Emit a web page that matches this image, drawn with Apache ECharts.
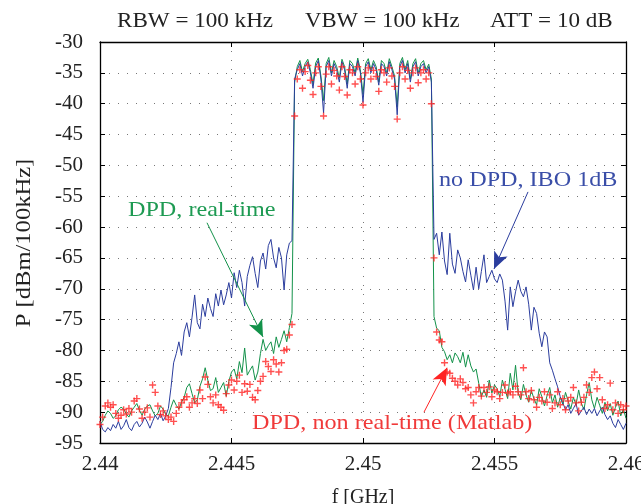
<!DOCTYPE html>
<html>
<head>
<meta charset="utf-8">
<script src="https://cdn.jsdelivr.net/npm/echarts@6/dist/echarts.min.js"></script>
<style>html,body{margin:0;padding:0;background:#fff}#c{width:641px;height:504px}</style>
</head>
<body>
<div id="c"></div>
<script>
// Frequency grid (GHz): uniform analyzer sweep
const F_START = 2.44;
const F_STEP = 0.0001;
const N_POINTS = 201;

const xTicks = [2.44, 2.445, 2.45, 2.455, 2.46];
const yTicks = [-95, -90, -85, -80, -75, -70, -65, -60, -55, -50, -45, -40, -35, -30];

// no DPD, IBO 1dB (blue)
const noDPD = [
-91.5,-92.8,-93.2,-92.5,-93,-92,-92.6,-91.5,-92.8,-92.2,
-91.2,-92.5,-93,-92,-91.5,-92.4,-91.8,-90.8,-91.6,-92.6,
-91.5,-90.5,-91.2,-90.2,-91.4,-90.6,-89.4,-86,-82,-80.5,
-78.6,-80.8,-77,-75.5,-77.8,-74.6,-71,-75.5,-76.5,-72.5,
-74.5,-71.5,-73.2,-74.5,-70.8,-72.8,-70.2,-72.6,-71,-69,
-71.5,-67.4,-69.8,-67,-69,-72.8,-68,-66.2,-64.8,-67.5,
-69.8,-65.5,-64.2,-66.8,-63,-62,-65,-66.6,-63.3,-65,
-70.2,-64.5,-62.6,-62.2,
-36,
-34.5,-33.5,-35.5,-34,-33.2,-35,-37.5,-34,-33,-36,
-41.5,-34,-33,-35.5,-33.5,-34.5,-36.5,-33.2,-34.5,-37.5,
-33.5,-34,-35.5,-33,-35,-39.8,-34,-33.2,-35,-33.5,
-34.5,-37,-33.5,-34,-35.5,-33.2,-34.5,-36,-41.8,-34,
-33,-35,-33.5,-36.5,-34,-33.2,-35.5,-34,-33.5,-35,-34,
-36.5,-62,-61,-64.5,-60.8,-65.5,-67.7,-61,-66,-67.5,
-63.7,-65,-67.2,-68.9,-65.3,-67.8,-70.2,-66.5,-70,-67.2,
-64.5,-69,-68,-67,-68.4,-69,-67.6,-68.6,-72,-76.7,
-69.7,-72.9,-70.5,-68.6,-70.4,-71.3,-69.7,-72.5,-76.7,-73,
-74,-77.2,-79.4,-77,-77.8,-82,-83.2,-84.6,-85.9,-87.5,
-88.5,-89.6,-88.8,-90.2,-89.4,-88.6,-90.5,-89.8,-89.2,-90.4,
-89.5,-90.2,-89.4,-90.6,-89.8,-89.2,-90.4,-91.2,-90.6,-91.8,
-92.5,-91.2,-92,-92.8,-91.8
];

// DPD, real-time (green)
const dpdRT = [
-92,-91.5,-90.5,-89.8,-90.2,-91,-90.6,-89.6,-89.2,-89.5,
-90.3,-90.8,-89.8,-89.2,-88.6,-89.7,-90.5,-89.5,-89,-88.8,
-89.8,-90.6,-90.2,-89,-89.5,-90.4,-90.6,-89.2,-88,-88.9,
-89.5,-88.4,-87.6,-86,-85.4,-87,-88.5,-88,-85.8,-84.6,
-82.8,-84.8,-86.5,-86.2,-84.4,-86.8,-86,-85.2,-87.4,-85,
-83.5,-83,-84.6,-81.8,-83.6,-79.6,-84,-83.2,-82.5,-84.8,
-83.5,-80.5,-78.2,-80,-79.2,-78.6,-80.5,-77.8,-79.5,-78.2,
-76.8,-78.6,-76.3,-74,
-36.5,
-34,-33,-34.8,-33.5,-32.8,-34.5,-36.8,-33.4,-32.6,-35.5,
-39.5,-33.5,-32.5,-35,-33,-34,-35.8,-32.8,-34,-36.8,
-33,-33.5,-35,-32.6,-34.5,-38.5,-33.5,-32.7,-34.5,-33,
-34,-36.5,-33,-33.5,-35,-32.7,-34,-35.5,-40.5,-33.5,
-32.5,-34.5,-33,-36,-33.5,-32.7,-35,-33.5,-33,-34.5,-33.6,
-36,-74.5,-76.4,-76.8,-79.5,-80.2,-81.5,-80.7,-82,-80.4,
-81,-82,-80.3,-82.7,-80.7,-82.5,-83.5,-83,-85.3,-87.5,
-86.4,-87.6,-84.8,-86.9,-85.6,-86.2,-87.5,-84.8,-86.3,-87.8,
-83.7,-86.4,-82.4,-86.9,-88,-85.5,-87.2,-88.4,-86.5,-87.8,
-88.8,-86.2,-87.5,-89,-87.3,-86,-88.5,-87.2,-89.2,-87.6,
-88.8,-86.8,-88.2,-89.5,-87.6,-88.8,-86.4,-88.5,-89.6,-87.2,
-85.2,-88,-89.4,-87.6,-88.9,-90.2,-88.4,-89.8,-88.6,-90.5,
-89.2,-88.2,-90.6,-89.5,-91
];

// DPD, non real-time (Matlab) (red markers)
const dpdMatlab = [
-92,-90.8,-89,-88.5,-89.2,-88.8,-90.2,-91,-90.5,-89.6,
-90.3,-89.4,-90,-88.2,-87.8,-89.5,-91,-90,-89.3,-90.8,
-85.6,-86.8,-89,-90.4,-89.8,-90.6,-91.2,-90.8,-91.5,-90.2,
-89.2,-88.5,-88,-87.5,-89.2,-88.5,-87.8,-88.6,-86.4,-87.8,
-84.3,-85.5,-87.5,-88.5,-87.2,-88.8,-89.2,-89.7,-87,-85.6,
-84.8,-86.4,-85,-84,-86.8,-85.4,-86.6,-85.5,-87.6,-88,
-86.5,-85,-84.2,-81.8,-82.6,-83.4,-81.5,-82.2,-83.5,-82,
-80,-79.8,-77.5,-75.8,
-42,
-36,-34.5,-37.5,-34.8,-33.8,-36.2,-38.5,-35,-34,-37.2,
-42,-35.2,-34,-36.8,-34.6,-35.5,-37.8,-34,-35.6,-38.6,
-34.5,-35,-36.8,-34,-36,-40.2,-35,-34.2,-36,-34.6,
-35.6,-38,-34.5,-35,-36.5,-34.2,-35.5,-37.2,-42.5,-35,
-34,-36,-34.6,-37.5,-35,-34.2,-36.6,-35,-34.5,-36,-35,
-40,-65,-77,-78.3,-78.6,-82,-83.5,-83.7,-84.5,-85,
-85.6,-84.6,-85.2,-86.2,-86,-87.2,-88.5,-86.7,-86,-87.4,
-86,-86.8,-85.9,-87.5,-86.4,-86.7,-87.8,-86.8,-85.6,-86.9,
-86.7,-87.2,-85.8,-86.7,-87.2,-82.8,-86.7,-87.8,-86.5,-88,
-89.2,-87.6,-88.2,-86.7,-88.4,-87.2,-89.4,-88.5,-86.7,-88.8,
-87.8,-89.6,-88.2,-87.6,-86,-88.5,-89.8,-88.4,-87.6,-85.6,
-86.8,-84.4,-83.5,-86.2,-84.4,-88,-89.4,-88.8,-85.3,-89.6,
-88.5,-90.2,-88.8,-89.6,-89
];

const headerTexts = ['RBW = 100 kHz', 'VBW = 100 kHz', 'ATT = 10 dB'];
const seriesNames = ['no DPD, IBO 1dB', 'DPD, real-time', 'DPD, non real-time (Matlab)'];
const axisNames = {x: 'f [GHz]', y: 'P [dBm/100kHz]'};

const freqs = [];
for (let i = 0; i < N_POINTS; i++) freqs.push(+(F_START + i * F_STEP).toFixed(5));
const pairs = arr => arr.map((v, i) => [freqs[i], v]);

const BLUE = '#2b3d9e', GREEN = '#13924a', RED = '#ff2424';
const FONT = "'Liberation Serif', 'Times New Roman', serif";
const fmt = v => String(Number(v.toFixed(3)));

const chart = echarts.init(document.getElementById('c'), null, {renderer: 'canvas'});

function arrow(color, from, to) {
  return {
    silent: true, animation: false,
    symbol: ['none', 'arrow'], symbolSize: [11, 17],
    lineStyle: {color: color, width: 1, type: 'solid'},
    label: {show: false},
    emphasis: {disabled: true},
    data: [[{coord: from}, {coord: to}]]
  };
}

function txt(text, x, y, size, color, sx, extra) {
  return Object.assign({
    type: 'text', x: x, y: y, scaleX: sx, z: 10, silent: true,
    style: {text: text, font: size + 'px ' + FONT, fill: color, textAlign: 'left', textVerticalAlign: 'top'}
  }, extra || {});
}

const axisCommon = {
  type: 'value',
  axisLine: {show: true, onZero: false, lineStyle: {color: '#000', width: 1.3}},
  axisTick: {show: true, inside: true, length: 5, lineStyle: {color: '#000', width: 1}},
};

chart.setOption({
  animation: false,
  backgroundColor: '#fff',
  grid: {left: 100, right: 15, top: 42, bottom: 61, containLabel: false, outerBoundsMode: 'none'},
  xAxis: [
    Object.assign({}, axisCommon, {
      min: xTicks[0], max: xTicks[xTicks.length - 1], interval: 0.005,
      position: 'bottom',
      name: axisNames.x, nameLocation: 'middle', nameGap: 45,
      nameTextStyle: {fontFamily: FONT, fontSize: 20, color: '#222'},
      axisLabel: {fontFamily: FONT, fontSize: 21, color: '#222', margin: 11, formatter: fmt},
      splitLine: {show: true, lineStyle: {color: '#777', width: 1, type: [1, 8]}}
    }),
    Object.assign({}, axisCommon, {
      min: xTicks[0], max: xTicks[xTicks.length - 1], interval: 0.005,
      position: 'top', axisLabel: {show: false}, splitLine: {show: false}
    })
  ],
  yAxis: [
    Object.assign({}, axisCommon, {
      min: yTicks[0], max: yTicks[yTicks.length - 1], interval: 5,
      position: 'left',
      axisLabel: {fontFamily: FONT, fontSize: 21, color: '#222', margin: 17},
      splitLine: {show: true, lineStyle: {color: '#777', width: 1, type: [1, 8]}}
    }),
    Object.assign({}, axisCommon, {
      min: yTicks[0], max: yTicks[yTicks.length - 1], interval: 5,
      position: 'right', axisLabel: {show: false}, splitLine: {show: false}
    })
  ],
  graphic: [
    txt(headerTexts[0], 117, 11, 21, '#222', 1.1),
    txt(headerTexts[1], 305, 11, 21, '#222', 1.08),
    txt(headerTexts[2], 490, 11, 21, '#222', 1.1),
    txt(seriesNames[0], 439, 170, 21, '#3a4ea8', 1.15),
    txt(seriesNames[1], 128, 200, 21, '#1d9a52', 1.15),
    txt(seriesNames[2], 252, 413, 21, '#f03a3a', 1.15),
    {
      type: 'text', x: 24, y: 243, rotation: Math.PI / 2, scaleX: 1.17, silent: true,
      style: {text: axisNames.y, font: '21px ' + FONT, fill: '#222', textAlign: 'center', textVerticalAlign: 'middle'}
    }
  ],
  series: [
    {
      name: seriesNames[1], type: 'line', data: pairs(dpdRT), showSymbol: false,
      lineStyle: {color: GREEN, width: 1}, itemStyle: {color: GREEN}, z: 2,
      markLine: arrow(GREEN, [2.444068, -59.3], [2.446198, -77.8])
    },
    {
      name: seriesNames[0], type: 'line', data: pairs(noDPD), showSymbol: false,
      lineStyle: {color: BLUE, width: 1}, itemStyle: {color: BLUE}, z: 3,
      markLine: arrow(BLUE, [2.456274, -54.3], [2.454981, -66.8])
    },
    {
      name: seriesNames[2], type: 'scatter', data: pairs(dpdMatlab),
      symbol: 'path://M4,0H6V4H10V6H6V10H4V6H0V4H4Z', symbolSize: 7,
      itemStyle: {color: RED}, z: 4,
      markLine: arrow(RED, [2.452319, -90.0], [2.453194, -82.8])
    }
  ]
});
</script>
</body>
</html>
